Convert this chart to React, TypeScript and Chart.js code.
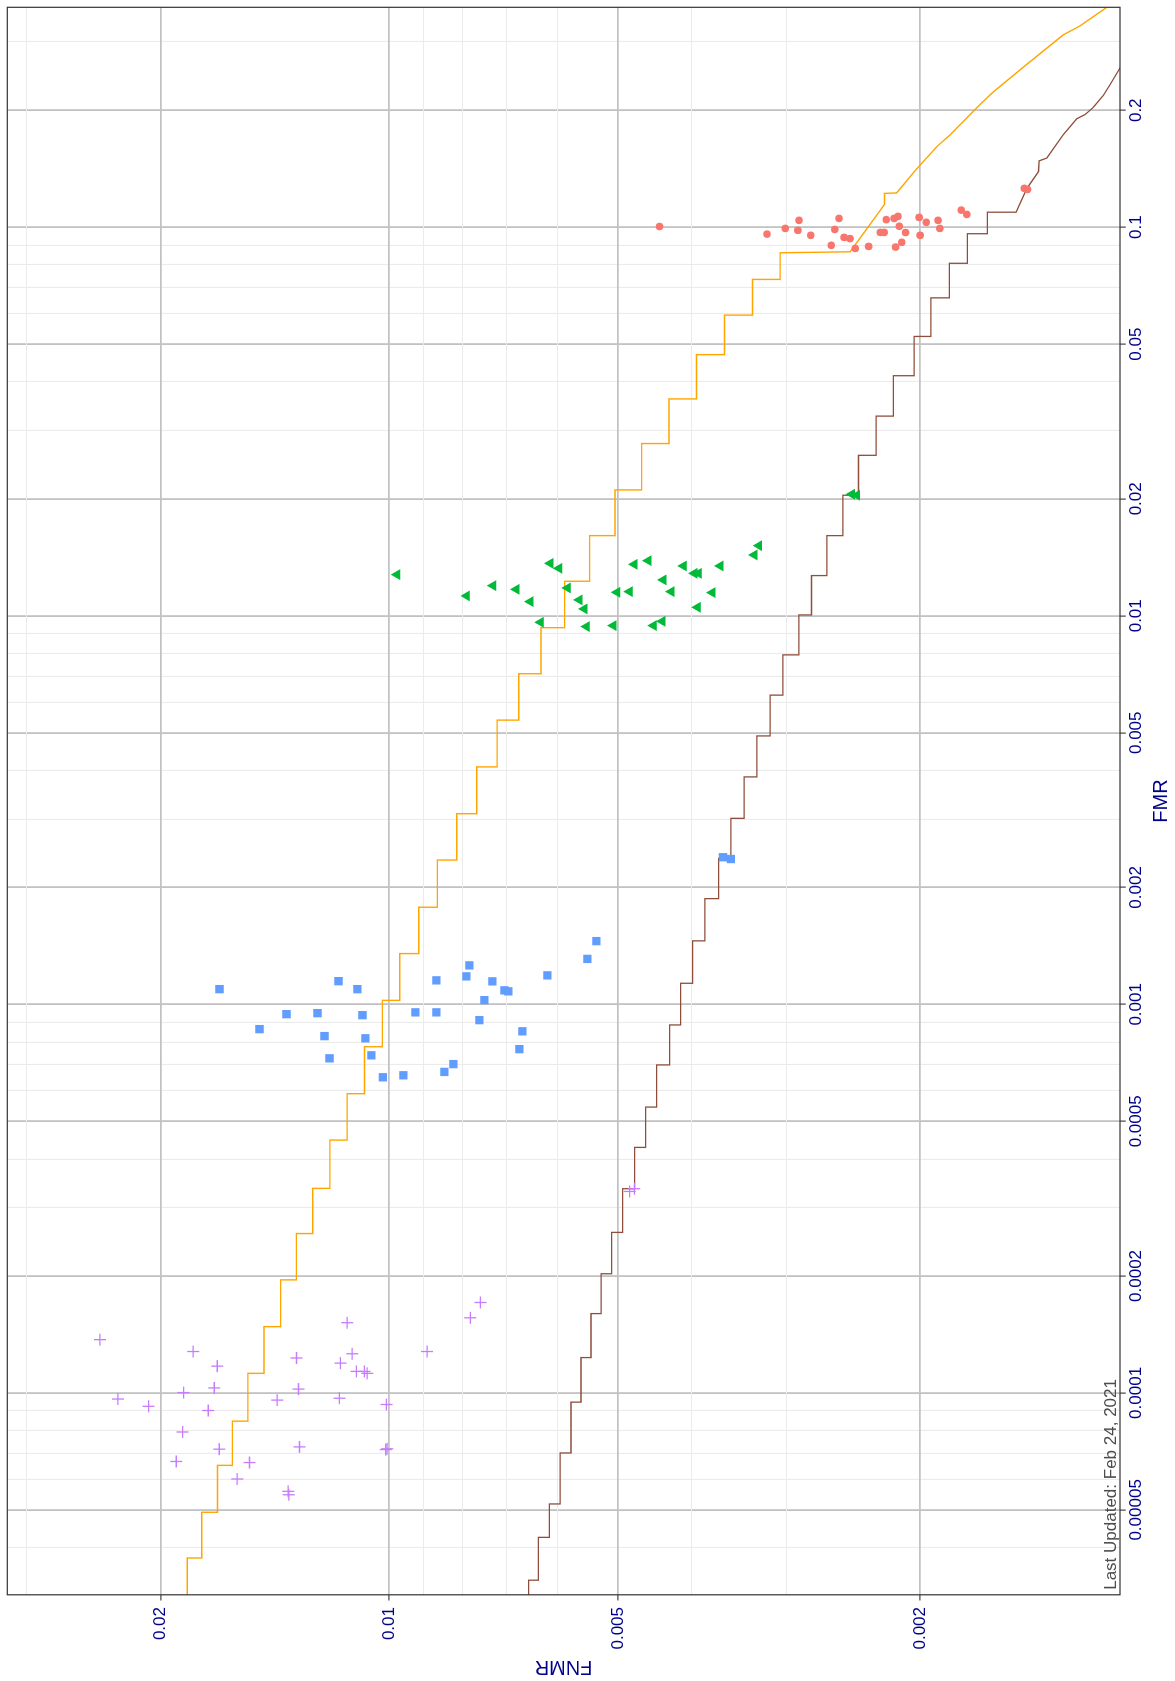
import React, { useEffect, useRef } from 'react';
import { Chart, registerables } from 'chart.js';

Chart.register(...registerables);

// ---------- axis ranges ----------
const FMR_RANGE = [3.023e-5, 0.3681];
const FNMR_RANGE = [0.0010912, 0.031828];

// ---------- ticks ----------
const FMR_MAJOR_TICKS = [0.00005, 0.0001, 0.0002, 0.0005, 0.001, 0.002, 0.005, 0.01, 0.02, 0.05, 0.1, 0.2];
const FMR_TICK_LABELS = ['0.00005', '0.0001', '0.0002', '0.0005', '0.001', '0.002', '0.005', '0.01', '0.02', '0.05', '0.1', '0.2'];
const FMR_MINOR_TICKS = [0.00004, 0.00006, 0.00007, 0.00008, 0.00009, 0.0003, 0.0004, 0.0006, 0.0007, 0.0008, 0.0009,
  0.003, 0.004, 0.006, 0.007, 0.008, 0.009, 0.03, 0.04, 0.06, 0.07, 0.08, 0.09, 0.3];
const FNMR_MAJOR_TICKS = [0.002, 0.005, 0.01, 0.02];
const FNMR_TICK_LABELS = ['0.002', '0.005', '0.01', '0.02'];
const FNMR_MINOR_TICKS = [0.003, 0.004, 0.006, 0.007, 0.008, 0.009, 0.03];

const X_TITLE = 'FMR';
const Y_TITLE = 'FNMR';
const NOTE_TEXT = 'Last Updated: Feb 24, 2021';

// ---------- DET curves: [FMR, FNMR] ----------
const DET_ORANGE: number[][] = [
  [2.60e-5, 0.01845], [3.76e-5, 0.01845], [3.76e-5, 0.01765], [4.93e-5, 0.01765], [4.93e-5, 0.01683],
  [6.51e-5, 0.01683], [6.51e-5, 0.01609], [8.46e-5, 0.01609], [8.46e-5, 0.01535], [1.123e-4, 0.01535],
  [1.123e-4, 0.01462], [1.481e-4, 0.01462], [1.481e-4, 0.01390], [1.954e-4, 0.01390], [1.954e-4, 0.01325],
  [2.571e-4, 0.01325], [2.571e-4, 0.01261], [3.361e-4, 0.01261], [3.361e-4, 0.01197], [4.474e-4, 0.01197],
  [4.474e-4, 0.01136], [5.890e-4, 0.01136], [5.890e-4, 0.01078], [7.779e-4, 0.01078], [7.779e-4, 0.01021],
  [1.024e-3, 0.01021], [1.024e-3, 0.009686], [1.351e-3, 0.009686], [1.351e-3, 0.009145], [1.778e-3, 0.009145],
  [1.778e-3, 0.008641], [2.352e-3, 0.008641], [2.352e-3, 0.008150], [3.095e-3, 0.008150], [3.095e-3, 0.007670],
  [4.084e-3, 0.007670], [4.084e-3, 0.007211], [5.389e-3, 0.007211], [5.389e-3, 0.006754], [7.093e-3, 0.006754],
  [7.093e-3, 0.006311], [9.320e-3, 0.006311], [9.320e-3, 0.005876], [1.227e-2, 0.005876], [1.227e-2, 0.005447],
  [1.608e-2, 0.005447], [1.608e-2, 0.005044], [2.108e-2, 0.005044], [2.108e-2, 0.004653], [2.775e-2, 0.004653],
  [2.775e-2, 0.004283], [3.615e-2, 0.004283], [3.615e-2, 0.003939], [4.700e-2, 0.003939], [4.700e-2, 0.003619],
  [5.940e-2, 0.003619], [5.940e-2, 0.003324], [7.340e-2, 0.003324], [7.340e-2, 0.003057], [8.594e-2, 0.003057],
  [8.645e-2, 0.002473], [0.1145, 0.002228], [0.1222, 0.002228], [0.1225, 0.002148], [0.1397, 0.002031],
  [0.1613, 0.001901], [0.1730, 0.001826], [0.2069, 0.001668], [0.2229, 0.001602], [0.2584, 0.001462],
  [0.3126, 0.001296], [0.3296, 0.001232], [0.3681, 0.001136], [0.3823, 0.001108],
];

const DET_BROWN: number[][] = [
  [2.60e-5, 0.006553], [3.296e-5, 0.006553], [3.296e-5, 0.006363], [4.249e-5, 0.006363], [4.249e-5, 0.006154],
  [5.179e-5, 0.006154], [5.179e-5, 0.005958], [7.005e-5, 0.005958], [7.005e-5, 0.005763], [9.469e-5, 0.005763],
  [9.469e-5, 0.005591], [1.233e-4, 0.005591], [1.233e-4, 0.005424], [1.600e-4, 0.005424], [1.600e-4, 0.005262],
  [2.026e-4, 0.005262], [2.026e-4, 0.005096], [2.589e-4, 0.005096], [2.589e-4, 0.004929], [3.354e-4, 0.004929],
  [3.354e-4, 0.004753], [4.284e-4, 0.004753], [4.284e-4, 0.004597], [5.440e-4, 0.004597], [5.440e-4, 0.004446],
  [6.984e-4, 0.004446], [6.984e-4, 0.004275], [8.851e-4, 0.004275], [8.851e-4, 0.004135], [1.133e-3, 0.004135],
  [1.133e-3, 0.003987], [1.457e-3, 0.003987], [1.457e-3, 0.003840], [1.871e-3, 0.003840], [1.871e-3, 0.003685],
  [2.376e-3, 0.003685], [2.376e-3, 0.003549], [3.011e-3, 0.003549], [3.011e-3, 0.003409], [3.849e-3, 0.003409],
  [3.849e-3, 0.003280], [4.907e-3, 0.003280], [4.907e-3, 0.003151], [6.249e-3, 0.003151], [6.249e-3, 0.003032],
  [7.932e-3, 0.003032], [7.932e-3, 0.002888], [1.005e-2, 0.002888], [1.005e-2, 0.002780], [1.269e-2, 0.002780],
  [1.269e-2, 0.002653], [1.608e-2, 0.002653], [1.608e-2, 0.002528], [2.043e-2, 0.002528], [2.043e-2, 0.002411],
  [2.588e-2, 0.002411], [2.588e-2, 0.002285], [3.265e-2, 0.002285], [3.265e-2, 0.002169], [4.148e-2, 0.002169],
  [4.148e-2, 0.002037], [5.235e-2, 0.002037], [5.235e-2, 0.001936], [6.58e-2, 0.001936], [6.58e-2, 0.001830],
  [8.075e-2, 0.001830], [8.075e-2, 0.001733], [9.622e-2, 0.001733], [9.622e-2, 0.001631], [0.1093, 0.001631],
  [0.1093, 0.001495], [0.1259, 0.001447], [0.1391, 0.001397], [0.1482, 0.001394], [0.1507, 0.001362],
  [0.1730, 0.001296], [0.1901, 0.001244], [0.1950, 0.001213], [0.2035, 0.001183], [0.2183, 0.001148],
  [0.2326, 0.001125], [0.2557, 0.001093], [0.2711, 0.001075],
];

// ---------- operating points ----------
const RED_FMR = [0.09600, 0.09929, 0.10417, 0.09818, 0.09532, 0.10535, 0.09870, 0.08984, 0.09414, 0.09348, 0.08818,
  0.08925, 0.09697, 0.09697, 0.10460, 0.10535, 0.10666, 0.10059, 0.09691, 0.09145, 0.08891, 0.10598, 0.09532,
  0.10294, 0.10417, 0.09929, 0.11066, 0.10788, 0.10042, 0.12590, 0.12508];
const RED_FNMR = [0.003182, 0.003011, 0.002888, 0.002897, 0.002787, 0.002558, 0.002590, 0.002619, 0.002518, 0.002473,
  0.002434, 0.002338, 0.002256, 0.002230, 0.002216, 0.002164, 0.002139, 0.002130, 0.002090, 0.002115, 0.002154,
  0.002006, 0.002000, 0.001963, 0.001894, 0.001884, 0.001766, 0.001736, 0.004406, 0.001459, 0.001444];

const GREEN_FMR = [0.012764, 0.011251, 0.011956, 0.011697, 0.010876, 0.009622, 0.013645, 0.013247, 0.011795, 0.010986,
  0.010417, 0.009380, 0.009436, 0.011493, 0.011541, 0.013564, 0.013865, 0.012370, 0.011541, 0.009436, 0.009679,
  0.013436, 0.012862, 0.012862, 0.010516, 0.011473, 0.013436, 0.014341, 0.015152, 0.020550, 0.020429];
const GREEN_FNMR = [0.009763, 0.007907, 0.007299, 0.006801, 0.006519, 0.006319, 0.006136, 0.005976, 0.005822, 0.005620,
  0.005535, 0.005497, 0.005070, 0.005013, 0.004825, 0.004757, 0.004560, 0.004357, 0.004253, 0.004487, 0.004370,
  0.004097, 0.003966, 0.003915, 0.003927, 0.003756, 0.003666, 0.003307, 0.003260, 0.002460, 0.002423];

const BLUE_FMR = [0.0010942, 0.0011473, 0.0010942, 0.00094358, 0.00094920, 0.00093802, 0.00086348, 0.00082843,
  0.00081769, 0.00072628, 0.00073931, 0.00064906, 0.00065680, 0.00095369, 0.00095369, 0.0011528, 0.0011804,
  0.0012597, 0.0011460, 0.0010865, 0.0010801, 0.0010252, 0.00091072, 0.00085232, 0.00076694, 0.00070176,
  0.00067010, 0.0011874, 0.0013091, 0.0014546, 0.0023911, 0.0023658];
const BLUE_FNMR = [0.016727, 0.011663, 0.011011, 0.013654, 0.012429, 0.010845, 0.014819, 0.012168, 0.010748, 0.011985,
  0.010554, 0.010192, 0.009578, 0.009236, 0.008667, 0.008667, 0.007914, 0.007842, 0.007314, 0.007053, 0.006968,
  0.007494, 0.007608, 0.006678, 0.006739, 0.008232, 0.008460, 0.006192, 0.005485, 0.005337, 0.003636, 0.003549];

const PURPLE_FMR = [1.371e-4, 9.645e-5, 9.237e-5, 1.278e-4, 1.172e-4, 1.002e-4, 1.030e-4, 9.010e-5, 7.933e-5, 7.165e-5,
  6.662e-5, 6.619e-5, 6.004e-5, 5.580e-5, 5.469e-5, 9.583e-5, 1.230e-4, 1.023e-4, 7.263e-5, 1.516e-4, 1.261e-4,
  1.193e-4, 1.136e-4, 1.136e-4, 1.123e-4, 9.691e-5, 9.336e-5, 7.182e-5, 7.148e-5, 1.278e-4, 1.561e-4, 1.709e-4,
  3.300e-4, 3.353e-4];
const PURPLE_FNMR = [0.024038, 0.022762, 0.020740, 0.018115, 0.016842, 0.018655, 0.016996, 0.017308, 0.018711, 0.016740,
  0.019071, 0.015273, 0.015853, 0.013583, 0.013558, 0.014044, 0.013245, 0.013165, 0.013126, 0.011360, 0.011189,
  0.011593, 0.011045, 0.010780, 0.010692, 0.011628, 0.010084, 0.010062, 0.010105, 0.008917, 0.007821, 0.007585,
  0.004825, 0.004757];

// ---------- helpers ----------
const zip = (xs: number[], ys: number[]) => {
  const n = Math.min(xs.length, ys.length);
  const out: { x: number; y: number }[] = [];
  for (let i = 0; i < n; i++) out.push({ x: xs[i], y: ys[i] });
  return out;
};
const pairs = (list: number[][]) => list.map((p) => ({ x: p[0], y: p[1] }));
const findIdx = (list: number[], v: number) => list.findIndex((m) => Math.abs(m - v) <= m * 1e-6);

const FONT_FAMILY = '"Liberation Sans", Arial, Helvetica, sans-serif';
const LABEL_COLOR = '#00008B';
const MAJOR_GRID = '#C2C2C2';
const MINOR_GRID = '#EBEBEB';

const W = 1681;
const H = 1175;

const framePlugin = {
  id: 'panelFrame',
  afterDatasetsDraw(chart: any) {
    const { ctx, chartArea: a } = chart;
    ctx.save();
    ctx.fillStyle = '#4D4D4D';
    ctx.font = '17px ' + FONT_FAMILY;
    ctx.textAlign = 'left';
    ctx.textBaseline = 'alphabetic';
    ctx.fillText(NOTE_TEXT, a.left + 5, a.bottom - 4.5);
    ctx.strokeStyle = '#333333';
    ctx.lineWidth = 1.2;
    ctx.strokeRect(a.left, a.top, a.right - a.left, a.bottom - a.top);
    ctx.restore();
  },
};

function axisGrid(majors: number[]) {
  const isMajor = (c: any) => !!(c && c.tick && findIdx(majors, c.tick.value) >= 0);
  return {
    display: true,
    drawOnChartArea: true,
    drawTicks: true,
    tickLength: 5.7,
    tickWidth: 1.1,
    color: (c: any) => (isMajor(c) ? MAJOR_GRID : MINOR_GRID),
    lineWidth: (c: any) => (isMajor(c) ? 1.8 : 1.1),
    tickColor: (c: any) => (isMajor(c) ? '#333333' : 'rgba(0,0,0,0)'),
  };
}

export default function App() {
  const ref = useRef<HTMLCanvasElement | null>(null);

  useEffect(() => {
    const canvas = ref.current;
    if (!canvas) return;
    const chart = new Chart(canvas, {
      type: 'scatter',
      data: {
        datasets: [
          { label: 'red', data: zip(RED_FMR, RED_FNMR), pointStyle: 'circle', pointRadius: 3.8,
            backgroundColor: '#F8766D', borderColor: '#F8766D', borderWidth: 0, order: 0 },
          { label: 'green', data: zip(GREEN_FMR, GREEN_FNMR), pointStyle: 'triangle', pointRadius: 6.3,
            backgroundColor: '#00BA38', borderColor: '#00BA38', borderWidth: 0, order: 0 },
          { label: 'blue', data: zip(BLUE_FMR, BLUE_FNMR), pointStyle: 'rect', pointRadius: 5.9,
            backgroundColor: '#619CFF', borderColor: '#619CFF', borderWidth: 0, order: 0 },
          { label: 'purple', data: zip(PURPLE_FMR, PURPLE_FNMR), pointStyle: 'cross', pointRadius: 6,
            backgroundColor: '#C77CFF', borderColor: '#C77CFF', borderWidth: 1.3, order: 0 },
          { label: 'det orange', data: pairs(DET_ORANGE), showLine: true, pointRadius: 0, borderColor: '#FFA500',
            backgroundColor: '#FFA500', borderWidth: 1.4, tension: 0, fill: false, order: 5 },
          { label: 'det brown', data: pairs(DET_BROWN), showLine: true, pointRadius: 0, borderColor: '#8E4E3C',
            backgroundColor: '#8E4E3C', borderWidth: 1.3, tension: 0, fill: false, order: 5 },
        ],
      },
      options: {
        animation: false,
        responsive: false,
        maintainAspectRatio: false,
        devicePixelRatio: 1,
        events: [],
        layout: { padding: { left: 0, right: 6.4, top: 6.7, bottom: 0 } },
        plugins: { legend: { display: false }, tooltip: { enabled: false }, title: { display: false } },
        scales: {
          x: {
            type: 'logarithmic',
            position: 'bottom',
            min: FMR_RANGE[0],
            max: FMR_RANGE[1],
            bounds: 'data',
            afterBuildTicks: (s: any) => {
              s.ticks = FMR_MAJOR_TICKS.concat(FMR_MINOR_TICKS)
                .filter((v) => v >= FMR_RANGE[0] && v <= FMR_RANGE[1])
                .sort((a, b) => a - b)
                .map((v) => ({ value: v }));
            },
            afterFit: (s: any) => {
              s.height = H - 1120;
              s.paddingLeft = 0; s.paddingRight = 0; s.paddingTop = 0; s.paddingBottom = 0;
            },
            ticks: {
              autoSkip: false, maxRotation: 0, minRotation: 0, padding: 0.8,
              color: LABEL_COLOR, font: { family: FONT_FAMILY, size: 17 },
              callback: (v: any) => { const i = findIdx(FMR_MAJOR_TICKS, Number(v)); return i >= 0 ? FMR_TICK_LABELS[i] : ''; },
            },
            grid: axisGrid(FMR_MAJOR_TICKS),
            border: { display: false },
            title: { display: true, text: X_TITLE, color: LABEL_COLOR, font: { family: FONT_FAMILY, size: 20 },
              padding: { top: 0, bottom: 2 } },
          },
          y: {
            type: 'logarithmic',
            position: 'left',
            min: FNMR_RANGE[0],
            max: FNMR_RANGE[1],
            bounds: 'data',
            afterBuildTicks: (s: any) => {
              s.ticks = FNMR_MAJOR_TICKS.concat(FNMR_MINOR_TICKS)
                .filter((v) => v >= FNMR_RANGE[0] && v <= FNMR_RANGE[1])
                .sort((a, b) => a - b)
                .map((v) => ({ value: v }));
            },
            afterFit: (s: any) => {
              s.width = 86.2;
              s.paddingLeft = 0; s.paddingRight = 0; s.paddingTop = 0; s.paddingBottom = 0;
            },
            ticks: {
              autoSkip: false, padding: 6.5,
              color: LABEL_COLOR, font: { family: FONT_FAMILY, size: 17 },
              callback: (v: any) => { const i = findIdx(FNMR_MAJOR_TICKS, Number(v)); return i >= 0 ? FNMR_TICK_LABELS[i] : ''; },
            },
            grid: axisGrid(FNMR_MAJOR_TICKS),
            border: { display: false },
            title: { display: true, text: Y_TITLE, color: LABEL_COLOR, font: { family: FONT_FAMILY, size: 20 },
              padding: { top: 2, bottom: 0 } },
          },
        },
      } as any,
      plugins: [framePlugin],
    } as any);
    return () => chart.destroy();
  }, []);

  return (
    <div style={{ position: 'absolute', left: 0, top: 0, width: H, height: W, overflow: 'hidden', background: '#ffffff' }}>
      <div
        style={{
          position: 'absolute', left: 0, top: 0, width: W, height: H,
          transformOrigin: '0 0', transform: `translate(0px, ${W}px) rotate(-90deg)`,
        }}
      >
        <canvas ref={ref} width={W} height={H} style={{ display: 'block', width: W, height: H }} />
      </div>
    </div>
  );
}
